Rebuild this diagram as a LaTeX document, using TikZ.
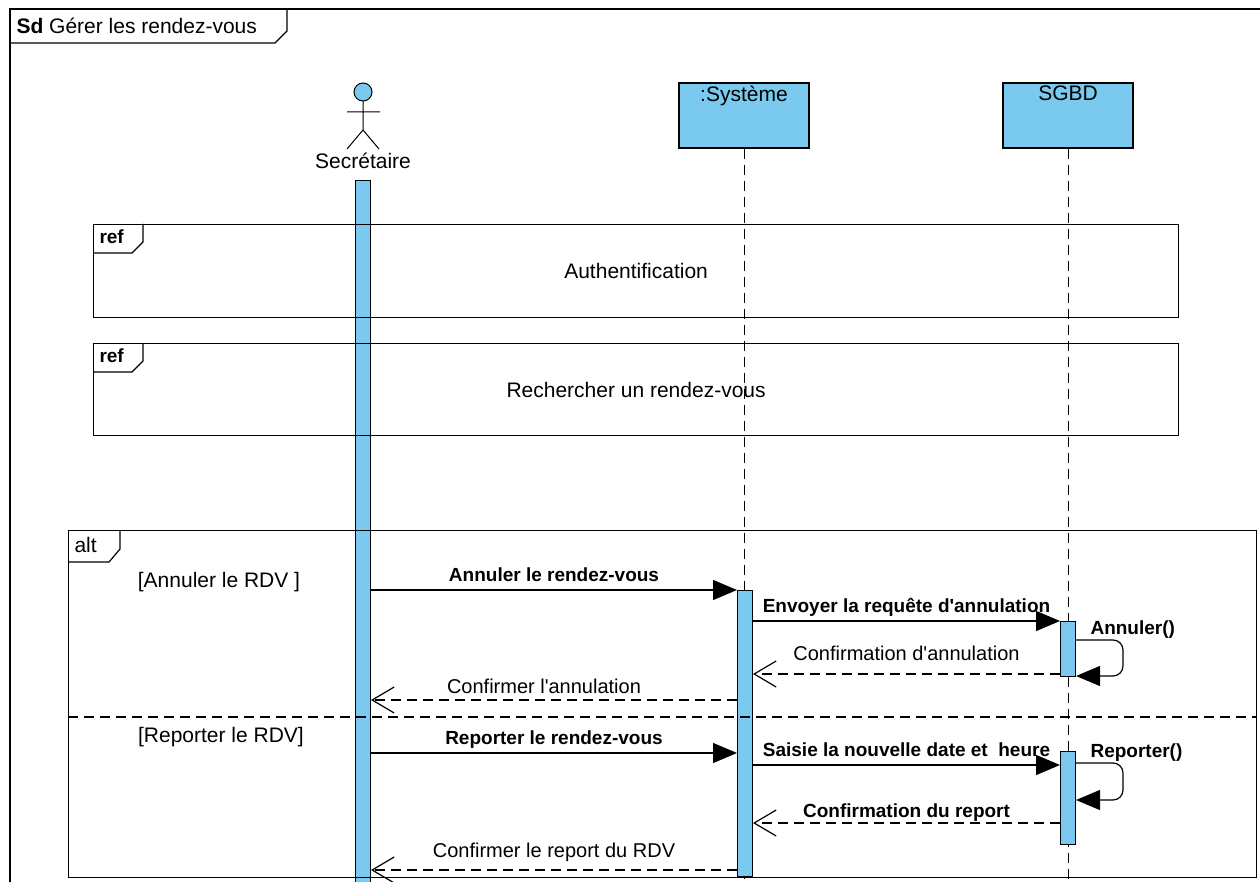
\documentclass[tikz,border=0pt]{standalone}
\usepackage{fontspec}
\setmainfont{Liberation Sans}
\usetikzlibrary{arrows.meta}
\definecolor{bleu}{RGB}{122,201,238}
\begin{document}
\begin{tikzpicture}[x=1pt,y=-1pt,
    every node/.style={font=\fontsize{21}{25}\selectfont},
    boite/.style={draw,fill=bleu,line width=1.2pt,minimum width=130pt,minimum height=65pt,inner sep=0pt},
    activ/.style={draw,fill=bleu,line width=1pt,minimum width=15pt,inner sep=0pt,anchor=north},
    cadre/.style={draw,line width=1.2pt,anchor=north west,inner sep=0pt},
    ligne/.style={line width=1pt,dash pattern=on 10pt off 6pt},
    msg/.style={line width=1.2pt,-{Triangle[length=24pt,width=20pt]}},
    retour/.style={line width=1.2pt,dash pattern=on 10pt off 6pt,-{Straight Barb[length=22pt,width=26pt]}},
    lab/.style={font=\fontsize{20}{24}\selectfont,above=4pt,inner sep=0pt,text height=14pt,text depth=4pt},
    labg/.style={lab,font=\bfseries\fontsize{19}{23}\selectfont},
    gras/.style={font=\bfseries\fontsize{19}{23}\selectfont,anchor=west}]
        \useasboundingbox (0,0) rectangle (1260,882);
        \draw[line width=1.5pt] (1262,9) -- (10,9) -- (10,884); % cadre sd
        \draw[line width=1.2pt] (10,43) -- (275,43) -- (287,31) -- (287,9);
        \node[anchor=west] (titre) at (13,26) {\textbf{Sd} Gérer les rendez-vous};
        % acteur
        \draw[line width=1pt,fill=bleu] (363,92) circle [radius=9];
        \draw[line width=1pt] (363,101) -- (363,130) (347,112) -- (380,112) (347,149) -- (363,130) -- (379,149);
        \node (sec) at (363,161) {Secrétaire};
        % objets
        \node[boite] (sys) at (744,115.5) {};
        \node[anchor=north,inner sep=3pt] at (sys.north) {:Système};
        \node[boite] (sgbd) at (1068,115.5) {};
        \node[anchor=north,inner sep=3pt] at (sgbd.north) {SGBD};
        \draw[ligne] (sys.south) -- (sys.south |- 0,884);
        \draw[ligne] (sgbd.south) -- (sgbd.south |- 0,884);
        % activations
        \node[activ,minimum height=705pt] (secA) at (363,180) {};
        \node[activ,minimum height=286pt] (sysA) at (745,590) {};
        \node[activ,minimum height=55pt] (bdA1) at (1068,621) {};
        \node[activ,minimum height=93pt] (bdA2) at (1068,751) {};
        % ref
        \node[cadre,minimum width=1085pt,minimum height=93pt] (ref1) at (93,224) {Authentification};
        \draw[line width=1.2pt] (ref1.north west) ++(0,29) -- ++(39,0) -- ++(11,-11) -- ++(0,-18);
        \node[gras] at ([xshift=3pt,yshift=-13pt]ref1.north west) {ref};
        \node[cadre,minimum width=1085pt,minimum height=92pt] (ref2) at (93,343) {Rechercher un rendez-vous};
        \draw[line width=1.2pt] (ref2.north west) ++(0,29) -- ++(39,0) -- ++(11,-11) -- ++(0,-18);
        \node[gras] at ([xshift=3pt,yshift=-13pt]ref2.north west) {ref};
        % alt
        \node[cadre,minimum width=1188pt,minimum height=347pt] (alt) at (68,530) {};
        \draw[line width=1.2pt] (alt.north west) ++(0,32) -- ++(41,0) -- ++(11,-13) -- ++(0,-19);
        \node[anchor=west] at ([xshift=3pt,yshift=-15pt]alt.north west) {alt};
        \draw[ligne,line width=1.2pt] (alt.west |- 0,717) -- (alt.east |- 0,717);
        \node (g1) at (219,582) {[Annuler le RDV ]};
        \node (g2) at (221,737) {[Reporter le RDV]};
        % annuler
        \draw[msg] (secA.east |- 0,590) -- node[labg] {Annuler le rendez-vous} (sysA.west |- 0,590);
        \draw[msg] (sysA.east |- 0,621) -- node[labg] {Envoyer la requête d\textquotesingle annulation} (bdA1.west |- 0,621);
        \draw[msg,rounded corners=10pt] (bdA1.east |- 0,640) -- (1123,640) -- (1123,676) -- (bdA1.east |- 0,676);
        \node[gras] (annul) at (1087,630) {Annuler()};
        \draw[retour] (bdA1.west |- 0,674) -- node[lab,yshift=5pt] {Confirmation d\textquotesingle annulation} (sysA.east |- 0,674);
        \draw[retour] (sysA.west |- 0,700) -- node[lab,yshift=-2pt,xshift=-10pt] {Confirmer l\textquotesingle annulation} (secA.east |- 0,700);
        % reporter
        \draw[msg] (secA.east |- 0,753) -- node[labg] {Reporter le rendez-vous} (sysA.west |- 0,753);
        \draw[msg] (sysA.east |- 0,765) -- node[labg] {Saisie la nouvelle date et~ heure} (bdA2.west |- 0,765);
        \draw[msg,rounded corners=10pt] (bdA2.east |- 0,763) -- (1123,763) -- (1123,800) -- (bdA2.east |- 0,800);
        \node[gras] (report) at (1087,753) {Reporter()};
        \draw[retour] (bdA2.west |- 0,823) -- node[labg,yshift=-3pt] {Confirmation du report} (sysA.east |- 0,823);
        \draw[retour] (sysA.west |- 0,870) -- node[lab,yshift=4pt] {Confirmer le report du RDV} (secA.east |- 0,870);
\end{tikzpicture}
\end{document}
